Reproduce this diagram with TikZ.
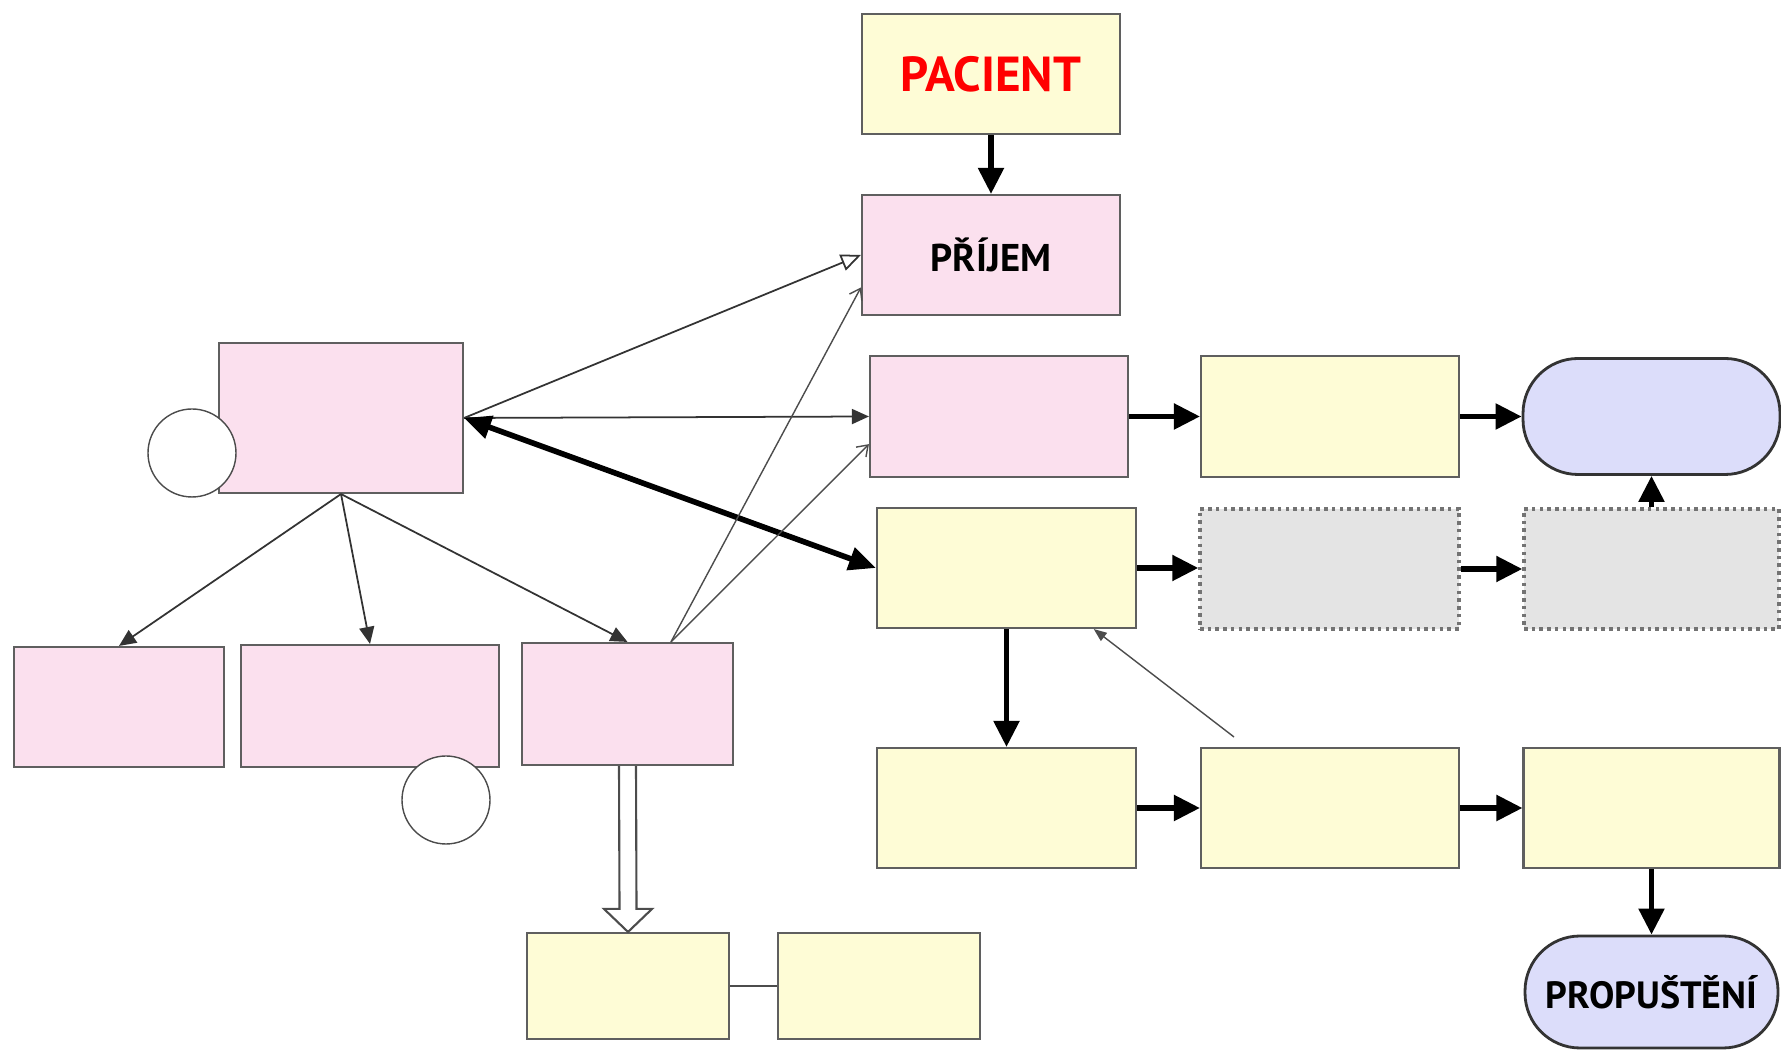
\documentclass[tikz,border=0pt]{standalone}
\usepackage{fontspec}
\setmainfont{PT Sans}
\usepackage{tikz}
\usetikzlibrary{arrows.meta,calc}

\definecolor{boxpink}{RGB}{251,224,238}
\definecolor{boxyellow}{RGB}{254,252,214}
\definecolor{boxblue}{RGB}{220,221,250}
\definecolor{boxgray}{RGB}{228,228,228}
\definecolor{boxline}{RGB}{95,95,95}

\begin{document}
\begin{tikzpicture}[
    box/.style={rectangle, draw=boxline, line width=0.6pt, inner sep=0pt, minimum height=1.2cm},
    pinkbox/.style={box, fill=boxpink},
    yellowbox/.style={box, fill=boxyellow},
    graybox/.style={box, draw=black!55, fill=boxgray, line width=1pt, dash pattern=on 1pt off 1.2pt},
    endbox/.style={box, fill=boxblue, draw=black!80, line width=0.8pt, rounded corners=0.55cm},
    ring/.style={circle, draw=black!70, fill=white, minimum size=0.88cm, inner sep=0pt},
    flow/.style={-{Triangle[length=0.26cm, width=0.25cm]}, line width=1.5pt},
    link/.style={-{Triangle[length=0.17cm, width=0.15cm]}, line width=0.5pt, draw=black!80},
    hint/.style={-{Straight Barb[length=0.1cm, width=0.14cm]}, line width=0.4pt, draw=black!70},
    hollow/.style={draw=black!70, fill=white, line width=0.6pt}]

    \useasboundingbox (0,0) rectangle (17.81,-10.52);

    % top
    \node[yellowbox, minimum width=2.58cm] (pac) at (9.91,-0.74) {\fontsize{14}{16}\selectfont\bfseries\color{red}PACIENT};
    \node[pinkbox, minimum width=2.58cm] (prijem) at (9.91,-2.55) {\fontsize{11}{13}\selectfont\bfseries PŘÍJEM};

    % left part
    \node[pinkbox, minimum width=2.44cm, minimum height=1.5cm] (odd) at (3.41,-4.18) {};
    \node[pinkbox, minimum width=2.10cm] (p1) at (1.19,-7.07) {};
    \node[pinkbox, minimum width=2.58cm, minimum height=1.22cm] (p2) at (3.70,-7.06) {};
    \node[pinkbox, minimum width=2.11cm, minimum height=1.22cm] (p3) at (6.275,-7.04) {};
    \node[yellowbox, minimum width=2.02cm, minimum height=1.06cm] (q1) at (6.28,-9.86) {};
    \node[yellowbox, minimum width=2.02cm, minimum height=1.06cm] (q2) at (8.79,-9.86) {};
    \node[ring] (c1) at (1.92,-4.53) {};
    \node[ring] (c2) at (4.46,-8.00) {};

    % right part
    \node[pinkbox, minimum width=2.58cm, minimum height=1.21cm] (m1) at (9.99,-4.165) {};
    \node[yellowbox, minimum width=2.58cm, minimum height=1.21cm] (y1) at (13.30,-4.165) {};
    \node[endbox, minimum width=2.57cm, minimum height=1.16cm] (b1) at (16.515,-4.165) {};
    \node[yellowbox, minimum width=2.59cm] (y2) at (10.065,-5.68) {};
    \node[graybox, minimum width=2.59cm] (g1) at (13.295,-5.69) {};
    \node[graybox, minimum width=2.55cm] (g2) at (16.515,-5.69) {};
    \node[yellowbox, minimum width=2.59cm] (y3) at (10.065,-8.08) {};
    \node[yellowbox, minimum width=2.58cm] (y4) at (13.30,-8.08) {};
    \node[yellowbox, minimum width=2.56cm] (y5) at (16.515,-8.08) {};
    \node[endbox, minimum width=2.53cm, minimum height=1.12cm] (prop) at (16.515,-9.92) {\fontsize{10.8}{13}\selectfont\bfseries PROPUŠTĚNÍ};
    \coordinate (note) at (12.34,-7.37);

    % thick flow
    \draw[flow] (pac) -- (prijem);
    \draw[flow] (m1) -- (y1);
    \draw[flow] (y1) -- (b1);
    \draw[flow] (y2.east) -- (g1.west |- y2.east);
    \draw[flow] (g1) -- (g2);
    \draw[flow] (g2.north) -- (b1.south);
    \draw[flow] (y2) -- (y3);
    \draw[flow] (y3) -- (y4);
    \draw[flow] (y4) -- (y5);
    \draw[flow] (y5) -- (prop);

    % thin links
    \draw[line width=0.5pt, draw=black!80, -{Triangle[open, length=0.2cm, width=0.17cm]}] (odd.east) -- (prijem.west);
    \draw[link] (odd.east) -- (m1.west);
    \draw[line width=1.6pt, {Triangle[length=0.27cm, width=0.23cm]}-{Triangle[length=0.27cm, width=0.23cm]}] (odd.east) -- (y2.west);
    \draw[link] (odd.south) -- (p1.north);
    \draw[link] (odd.south) -- (p2.north);
    \draw[link] (odd.south) -- (p3.north);
    \draw[hint] (p3.55) -- (prijem.194);
    \draw[hint] (p3.55) -- (m1.192);
    \draw[line width=0.4pt, draw=black!70, -{Triangle[length=0.13cm, width=0.1cm]}] (note) -- (y2.-35);
    \draw[line width=0.6pt, draw=black!70] (q1) -- (q2);

    % hollow arrow
    \draw[hollow] ($(p3.south)+(-0.085,0)$) -- ($(q1.north)+(-0.085,0.23)$) -- ++(-0.155,0)
        -- (q1.north) -- ++(0.24,0.23) -- ++(-0.155,0) -- ($(p3.south)+(0.085,0)$);
\end{tikzpicture}
\end{document}
